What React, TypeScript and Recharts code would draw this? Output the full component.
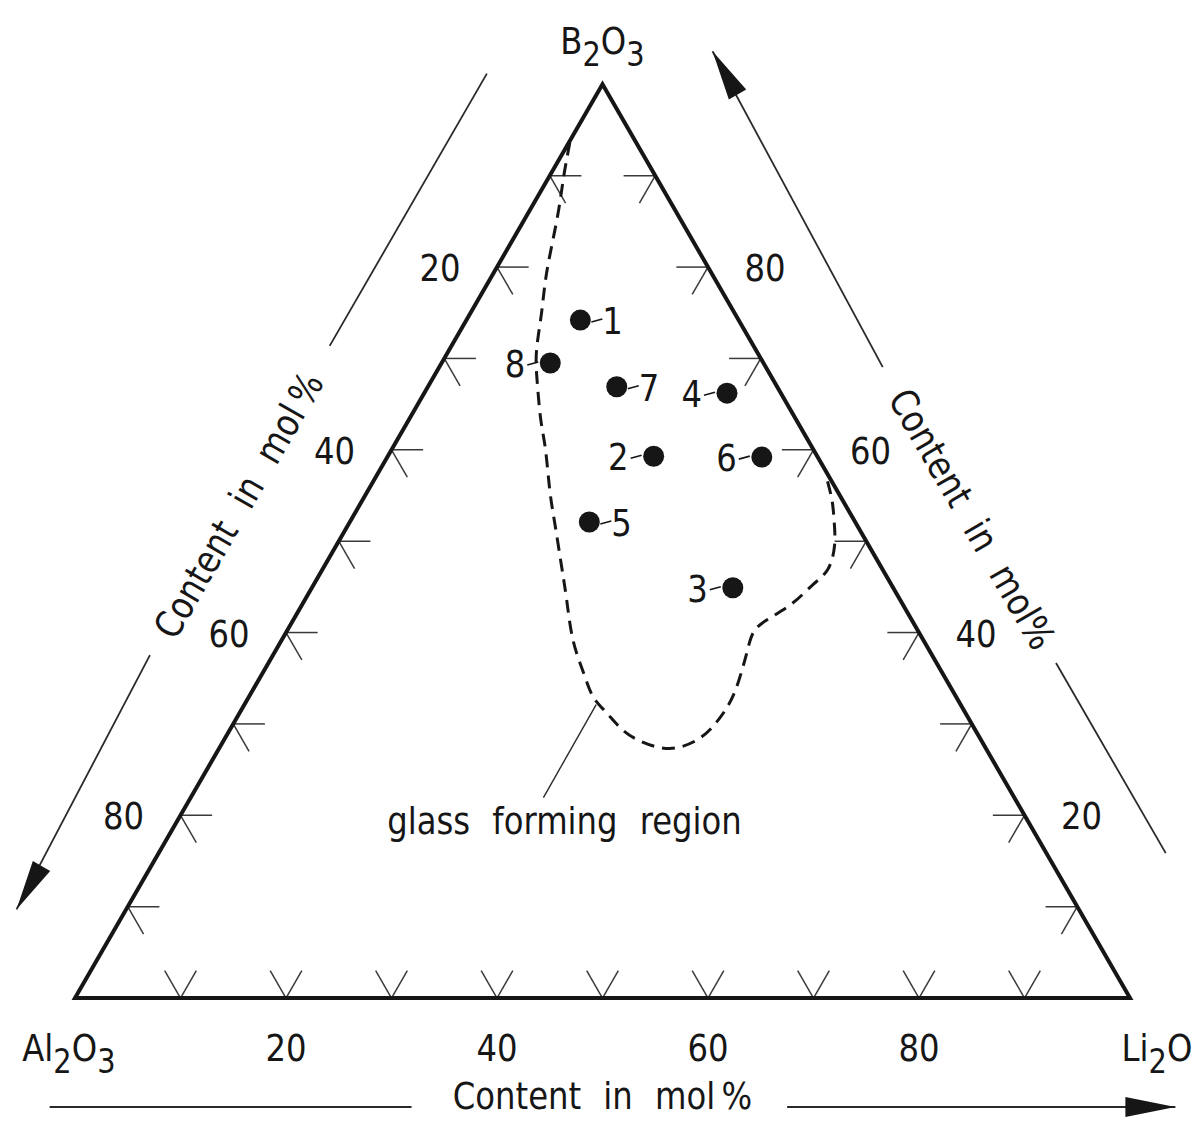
import React from "react";
import {
  ScatterChart,
  Scatter,
  XAxis,
  YAxis,
  ReferenceLine,
  ReferenceDot,
} from "recharts";

const H = Math.sqrt(3) / 2;
const FONT = "'DejaVu Sans', sans-serif";
const FS = 38;
const SX = 0.85;
const INK = "#161616";

// corners of the diagram (bottom left, bottom right, top)
const cornerNames = ["Al2O3", "Li2O", "B2O3"];

// glasses that were made, mol %
const sampleNames = ["1", "2", "3", "4", "5", "6", "7", "8"];
const sampleB2O3 = [74.2, 59.3, 44.9, 66.2, 52.1, 59.2, 66.9, 69.5];
const sampleLi2O = [10.8, 25.2, 39.9, 28.7, 22.7, 35.5, 17.9, 10.3];
const sampleAl2O3 = [15.0, 15.5, 15.2, 5.1, 25.2, 5.3, 15.2, 20.2];

// border of the glass forming region, from the Al2O3-B2O3 side round to the B2O3-Li2O side
const regionB2O3 = [
  93.6, 90.1, 86.3, 82.4, 78.6, 74.8, 70.9, 67.6, 63.3, 60.0, 55.6, 51.8,
  47.4, 43.6, 39.2, 35.6, 33.0, 31.2, 29.3, 28.0, 27.4, 27.4, 28.2, 29.7,
  31.9, 34.0, 36.2, 38.1, 40.0, 41.4, 43.2, 45.2, 46.9, 49.6, 52.3, 54.5,
  56.9,
];
const regionLi2O = [
  0.1, 1.3, 2.7, 4.0, 5.3, 6.8, 8.3, 10.0, 12.5, 14.6, 17.2, 19.6, 22.4,
  24.8, 27.6, 30.4, 32.6, 34.8, 37.3, 39.8, 41.8, 43.4, 44.8, 45.6, 45.9,
  45.7, 45.2, 44.7, 44.3, 44.9, 46.4, 47.3, 47.9, 47.2, 45.8, 44.5, 42.8,
];

// scale marks and numbered marks, mol %
const gridSteps = [10, 20, 30, 40, 50, 60, 70, 80, 90];
const labelSteps = [20, 40, 60, 80];

const leftLabelled = ["2", "3", "4", "6", "8"];

type Pt = { x: number; y: number };
const tern = (b: number, li: number): Pt => ({ x: li + b / 2, y: b * H });

const splitFormula = (s: string): [string, boolean][] =>
  (s.match(/\d+|\D+/g) || []).map((p) => [p, /\d/.test(p)]);

function Label({
  cx,
  cy,
  text,
  anchor = "middle",
  rotate = 0,
  spacing = 14,
}: {
  cx: number;
  cy: number;
  text: string;
  anchor?: "start" | "middle" | "end";
  rotate?: number;
  spacing?: number;
}) {
  const parts = splitFormula(text);
  const chem = parts.length > 1 && /^[A-Z]/.test(text);
  return (
    <text
      transform={`translate(${cx},${cy}) rotate(${rotate}) scale(${SX},1)`}
      y={14}
      textAnchor={anchor}
      fontFamily={FONT}
      fontSize={FS}
      fill={INK}
      style={{ wordSpacing: spacing, whiteSpace: "pre" }}
    >
      {chem
        ? parts.map(([s, sub], i) => (
            <tspan
              key={i}
              dy={sub ? 12 : i > 0 ? -12 : 0}
              fontSize={sub ? 34 : FS}
            >
              {s}
            </tspan>
          ))
        : text}
    </text>
  );
}

function Arrowhead({ cx, cy, angle }: { cx: number; cy: number; angle: number }) {
  return (
    <polygon
      points="0,0 -50,-10 -50,10"
      transform={`translate(${cx},${cy}) rotate(${angle})`}
      fill={INK}
    />
  );
}

function Sample(p: any) {
  const { cx, cy, payload } = p;
  const left = leftLabelled.includes(payload.name);
  const x0 = left ? cx - 23 : cx + 11;
  return (
    <g>
      <circle cx={cx} cy={cy} r={10.5} fill={INK} />
      <line x1={x0} y1={cy + 2} x2={x0 + 11} y2={cy - 1} stroke={INK} strokeWidth={1.6} />
      <Label
        cx={left ? cx - 25 : cx + 22}
        cy={cy}
        text={payload.name}
        anchor={left ? "end" : "start"}
      />
    </g>
  );
}

// points along the left / right side, shifted outwards by d
const leftSide = (s: number, d: number): Pt => ({
  x: s * 0.5 - d * H,
  y: s * H + d * 0.5,
});
const rightSide = (s: number, d: number): Pt => ({
  x: 50 + s * 0.5 + d * H,
  y: 100 * H - s * H + d * 0.5,
});

export default function App() {
  const frame = [tern(0, 0), tern(0, 100), tern(100, 0)];
  const region = regionB2O3.map((b, i) => tern(b, regionLi2O[i]));
  const samples = sampleNames.map((name, i) => ({
    ...tern(sampleB2O3[i], sampleLi2O[i]),
    name,
    al: sampleAl2O3[i],
  }));

  const TL = 3;
  const ticks: [Pt, Pt][] = [];
  gridSteps.forEach((v) => {
    const b = tern(0, v);
    ticks.push([b, { x: b.x - TL * 0.5, y: TL * H }], [b, { x: b.x + TL * 0.5, y: TL * H }]);
    const l = tern(v, 0);
    ticks.push([l, { x: l.x + TL, y: l.y }], [l, { x: l.x + TL * 0.5, y: l.y - TL * H }]);
    const r = tern(v, 100 - v);
    ticks.push([r, { x: r.x - TL, y: r.y }], [r, { x: r.x - TL * 0.5, y: r.y - TL * H }]);
  });

  const guide = { stroke: "#2a2a2a", strokeWidth: 1.8, ifOverflow: "visible" as const };

  const leftArrow = [leftSide(31.7, 10.1), leftSide(4.5, 9)];
  const leftLine = [leftSide(65.6, 10), leftSide(95.4, 10)];
  const leftText = leftSide(48.2, 10);
  const rightArrow = [rightSide(36.5, 9.6), rightSide(2.5, 10.6)];
  const rightLine = [rightSide(69, 9.8), rightSide(89.8, 9.8)];
  const rightText = rightSide(53.2, 9.8);

  return (
    <div
      style={{
        position: "absolute",
        left: 0,
        top: 0,
        width: 1193,
        height: 1121,
        background: "#fff",
      }}
    >
      <ScatterChart
        width={1193}
        height={1121}
        margin={{ top: 48.5, right: 63, bottom: 123, left: 75 }}
      >
        <XAxis type="number" dataKey="x" domain={[0, 100]} tickCount={11} hide />
        <YAxis type="number" dataKey="y" domain={[0, 90]} tickCount={10} hide />

        {ticks.map((seg, i) => (
          <ReferenceLine key={`t${i}`} segment={seg} stroke="#3a3a3a" strokeWidth={1.5} />
        ))}

        <Scatter
          data={region}
          isAnimationActive={false}
          line={{ stroke: INK, strokeWidth: 3, strokeDasharray: "13 8" }}
          lineJointType="natural"
          shape={() => <g />}
        />
        <Scatter
          data={frame}
          isAnimationActive={false}
          line={{ stroke: INK, strokeWidth: 4 }}
          lineJointType="linearClosed"
          shape={() => <g />}
        />
        <Scatter data={samples} isAnimationActive={false} shape={Sample} />

        {labelSteps.map((v) => {
          const l = tern(v, 0);
          const r = tern(v, 100 - v);
          const b = tern(0, v);
          return (
            <React.Fragment key={`l${v}`}>
              <ReferenceDot
                x={l.x - 5.4}
                y={l.y}
                r={0}
                ifOverflow="visible"
                shape={(p: any) => <Label cx={p.cx} cy={p.cy} text={String(100 - v)} />}
              />
              <ReferenceDot
                x={r.x + 5.4}
                y={r.y}
                r={0}
                ifOverflow="visible"
                shape={(p: any) => <Label cx={p.cx} cy={p.cy} text={String(v)} />}
              />
              <ReferenceDot
                x={b.x}
                y={-4.64}
                r={0}
                ifOverflow="visible"
                shape={(p: any) => <Label cx={p.cx} cy={p.cy} text={String(v)} />}
              />
            </React.Fragment>
          );
        })}

        {/* corner names */}
        <ReferenceDot
          x={-5}
          y={-4.6}
          r={0}
          ifOverflow="visible"
          shape={(p: any) => <Label cx={p.cx} cy={p.cy} text={cornerNames[0]} anchor="start" />}
        />
        <ReferenceDot
          x={99.2}
          y={-4.6}
          r={0}
          ifOverflow="visible"
          shape={(p: any) => <Label cx={p.cx} cy={p.cy} text={cornerNames[1]} anchor="start" />}
        />
        <ReferenceDot
          x={50}
          y={90.8}
          r={0}
          ifOverflow="visible"
          shape={(p: any) => <Label cx={p.cx} cy={p.cy} text={cornerNames[2]} />}
        />

        {/* glass forming region note */}
        <ReferenceLine segment={[{ x: 49.4, y: 27.8 }, { x: 44.4, y: 19.0 }]} {...guide} strokeWidth={1.4} />
        <ReferenceDot
          x={46.4}
          y={16.9}
          r={0}
          ifOverflow="visible"
          shape={(p: any) => <Label cx={p.cx} cy={p.cy} text="glass forming region" />}
        />

        {/* left title */}
        <ReferenceLine segment={leftArrow} {...guide} />
        <ReferenceDot
          x={leftArrow[1].x}
          y={leftArrow[1].y}
          r={0}
          ifOverflow="visible"
          shape={(p: any) => <Arrowhead cx={p.cx} cy={p.cy} angle={120} />}
        />
        <ReferenceLine segment={leftLine} {...guide} />
        <ReferenceDot
          x={leftText.x}
          y={leftText.y}
          r={0}
          ifOverflow="visible"
          shape={(p: any) => <Label cx={p.cx} cy={p.cy} text={"Content in mol\u2009%"} rotate={-60} />}
        />

        {/* right title */}
        <ReferenceLine segment={rightArrow} {...guide} />
        <ReferenceDot
          x={rightArrow[1].x}
          y={rightArrow[1].y}
          r={0}
          ifOverflow="visible"
          shape={(p: any) => <Arrowhead cx={p.cx} cy={p.cy} angle={-120} />}
        />
        <ReferenceLine segment={rightLine} {...guide} />
        <ReferenceDot
          x={rightText.x}
          y={rightText.y}
          r={0}
          ifOverflow="visible"
          shape={(p: any) => <Label cx={p.cx} cy={p.cy} text="Content in mol%" rotate={60} />}
        />

        {/* bottom title */}
        <ReferenceLine segment={[{ x: -2.4, y: -10.33 }, { x: 31.9, y: -10.33 }]} {...guide} />
        <ReferenceLine segment={[{ x: 67.5, y: -10.33 }, { x: 104.3, y: -10.33 }]} {...guide} />
        <ReferenceDot
          x={104.3}
          y={-10.33}
          r={0}
          ifOverflow="visible"
          shape={(p: any) => <Arrowhead cx={p.cx} cy={p.cy} angle={0} />}
        />
        <ReferenceDot
          x={50}
          y={-9.2}
          r={0}
          ifOverflow="visible"
          shape={(p: any) => <Label cx={p.cx} cy={p.cy} text={"Content in mol\u2009%"} />}
        />
      </ScatterChart>
    </div>
  );
}
